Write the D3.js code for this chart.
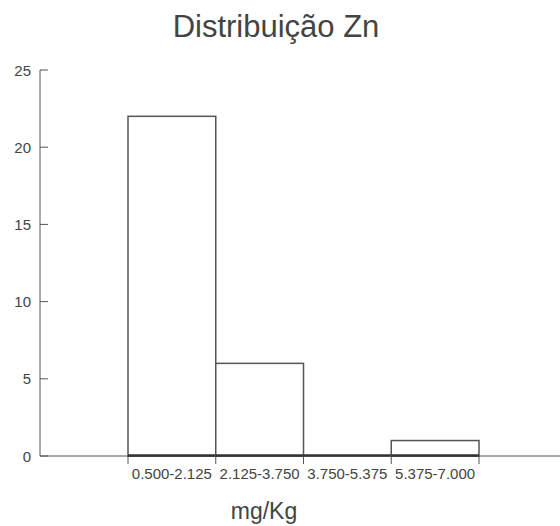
<!DOCTYPE html>
<html>
<head>
<meta charset="utf-8">
<script src="https://cdn.jsdelivr.net/npm/d3@7"></script>
<style>
  body { margin: 0; background: #fff; }
  text { font-family: "Liberation Sans", Arial, sans-serif; fill: #444; }
</style>
</head>
<body>
<svg width="560" height="526"></svg>
<script>
const categories = ['0.500-2.125', '2.125-3.750', '3.750-5.375', '5.375-7.000']
const counts = [22, 6, 0, 1]
const yTicks = [0, 5, 10, 15, 20, 25]

const svg = d3.select('svg')
const width = 560

const y = d3.scaleLinear()
  .domain([0, 25])
  .range([456, 70])

const x = d3.scaleBand()
  .domain(categories)
  .range([128, 479])
  .padding(0)

const axisColor = '#555'

// title
svg.append('text')
  .attr('x', 276)
  .attr('y', 37)
  .attr('text-anchor', 'middle')
  .style('font-size', '31px')
  .text('Distribuição Zn')

// y axis
svg.append('line')
  .attr('x1', 40).attr('x2', 40)
  .attr('y1', y(25)).attr('y2', y(0))
  .attr('stroke', axisColor)

const yt = svg.append('g').selectAll('g')
  .data(yTicks).enter().append('g')

yt.append('line')
  .attr('x1', 40).attr('x2', 48)
  .attr('y1', d => y(d)).attr('y2', d => y(d))
  .attr('stroke', axisColor)

yt.append('text')
  .attr('x', 31)
  .attr('y', d => y(d) + 5.5)
  .attr('text-anchor', 'end')
  .style('font-size', '15px')
  .text(d => d)

// x axis
svg.append('line')
  .attr('x1', 40).attr('x2', width)
  .attr('y1', y(0)).attr('y2', y(0))
  .attr('stroke', axisColor)

const edges = categories.map(c => x(c)).concat([x.range()[1]])
svg.append('g').selectAll('line')
  .data(edges).enter().append('line')
  .attr('x1', d => d).attr('x2', d => d)
  .attr('y1', y(0)).attr('y2', y(0) + 8)
  .attr('stroke', axisColor)

// bars
const bars = svg.append('g').selectAll('g')
  .data(categories).enter().append('g')

bars.append('rect')
  .attr('x', d => x(d))
  .attr('y', (d, i) => y(counts[i]))
  .attr('width', x.bandwidth())
  .attr('height', (d, i) => y(0) - y(counts[i]))
  .attr('fill', '#fff')
  .attr('stroke', '#555')
  .attr('stroke-width', 1.5)

bars.append('line')
  .attr('x1', d => x(d))
  .attr('x2', d => x(d) + x.bandwidth())
  .attr('y1', y(0) - 0.5).attr('y2', y(0) - 0.5)
  .attr('stroke', '#333')
  .attr('stroke-width', 2.5)

// tick labels
svg.append('g').selectAll('text')
  .data(categories).enter().append('text')
  .attr('x', d => x(d) + x.bandwidth() / 2)
  .attr('y', 479)
  .attr('text-anchor', 'middle')
  .style('font-size', '15px')
  .text(d => d)

// axis title
svg.append('text')
  .attr('x', 264)
  .attr('y', 519)
  .attr('text-anchor', 'middle')
  .style('font-size', '23px')
  .text('mg/Kg')
</script>
</body>
</html>
